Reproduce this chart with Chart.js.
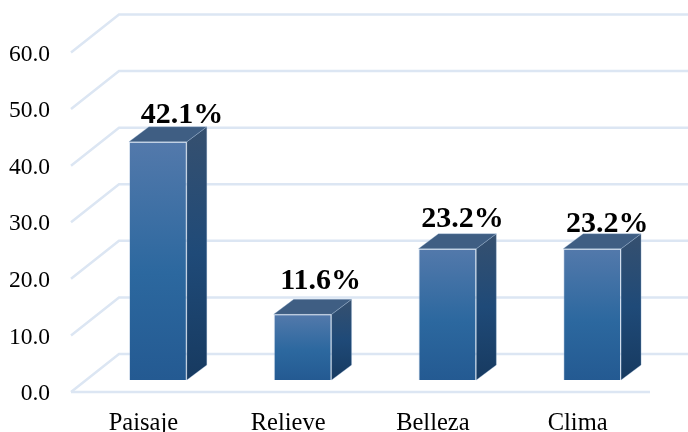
<!DOCTYPE html>
<html lang="es">
<head>
<meta charset="utf-8">
<title>Paisaje, relieve, belleza y clima</title>
<script src="https://cdn.jsdelivr.net/npm/chart.js@4/dist/chart.umd.min.js"></script>
<style>
    html, body { margin: 0; padding: 0; background: #fff; }
    canvas { display: block; }
</style>
</head>
<body>
<canvas id="barChart" width="688" height="432"></canvas>
<script>
// --- 1. DATOS ---
const categorias = ['Paisaje', 'Relieve', 'Belleza', 'Clima'];
const porcentajes = [42.1, 11.6, 23.2, 23.2];
const escalaMin = 0;
const escalaMax = 60;
const escalaPaso = 10;

// --- 2. APARIENCIA ---
const fuente = '"Liberation Serif", "Times New Roman", serif';
const colorRejilla = '#dce6f3';
const fondoX = 48, fondoY = -38;     // profundidad de las paredes
const caraX = 20, caraY = -15;       // profundidad de las barras
const desplazaBarra = 14.5;          // las barras van hacia el fondo del piso
const ajusteEtiquetas = [[24, -4], [18, -10], [15, -7], [15, -2]];

function degradado(ctx, y0, y1, paradas) {
    const g = ctx.createLinearGradient(0, y0, 0, y1);
    paradas.forEach(([p, c]) => g.addColorStop(p, c));
    return g;
}

// Paredes y piso detrás de las barras
const rejilla3D = {
    id: 'rejilla3D',
    beforeDatasetsDraw(chart) {
        const { ctx, chartArea, scales } = chart;
        ctx.save();
        ctx.strokeStyle = colorRejilla;
        ctx.lineWidth = 2.5;
        for (let v = escalaMin; v <= escalaMax; v += escalaPaso) {
            const y = scales.y.getPixelForValue(v);
            ctx.beginPath();
            ctx.moveTo(chartArea.left, y);
            ctx.lineTo(chartArea.left + fondoX, y + fondoY);
            ctx.lineTo(chart.width, y + fondoY);
            ctx.stroke();
        }
        const piso = scales.y.getPixelForValue(escalaMin);
        ctx.beginPath();
        ctx.moveTo(chartArea.left, piso);
        ctx.lineTo(chartArea.right, piso);
        ctx.stroke();
        ctx.restore();

        // El cuerpo de las barras se dibuja corrido sobre el piso
        ctx.save();
        ctx.translate(desplazaBarra, 0);
    },
    afterDatasetsDraw(chart) {
        chart.ctx.restore();
    }
};

// Caras superior y lateral, y el porcentaje sobre cada barra
const barras3D = {
    id: 'barras3D',
    afterDatasetsDraw(chart) {
        const { ctx } = chart;
        chart.getDatasetMeta(0).data.forEach((bar, i) => {
            const izq = bar.x - bar.width / 2 + desplazaBarra;
            const der = bar.x + bar.width / 2 + desplazaBarra;
            const arriba = bar.y;
            const abajo = bar.base;

            ctx.save();
            ctx.strokeStyle = 'rgba(170, 195, 225, 0.3)';
            ctx.lineWidth = 1;

            ctx.fillStyle = degradado(ctx, arriba + caraY, abajo, [[0, '#36506f'], [0.5, '#1f4a78'], [1, '#173a60']]);
            ctx.beginPath();
            ctx.moveTo(der, arriba);
            ctx.lineTo(der + caraX, arriba + caraY);
            ctx.lineTo(der + caraX, abajo + caraY);
            ctx.lineTo(der, abajo);
            ctx.closePath();
            ctx.fill();
            ctx.stroke();

            ctx.fillStyle = '#3f5e83';
            ctx.beginPath();
            ctx.moveTo(izq, arriba);
            ctx.lineTo(izq + caraX, arriba + caraY);
            ctx.lineTo(der + caraX, arriba + caraY);
            ctx.lineTo(der, arriba);
            ctx.closePath();
            ctx.fill();
            ctx.stroke();
            ctx.restore();

            ctx.save();
            ctx.font = 'bold 30px ' + fuente;
            ctx.fillStyle = '#000';
            ctx.textAlign = 'center';
            ctx.textBaseline = 'alphabetic';
            const [dx, dy] = ajusteEtiquetas[i];
            ctx.fillText(porcentajes[i].toFixed(1) + '%', bar.x + desplazaBarra + dx, arriba + caraY + dy);
            ctx.restore();
        });
    }
};

// --- 3. GRÁFICA ---
// yBarra tiene la misma escala que y, con el cero 12 px más arriba
const alturaUtil = 339.5;
const pxPorUnidad = alturaUtil / (escalaMax - escalaMin);
const elevaBarra = 12 / pxPorUnidad;

new Chart(document.getElementById('barChart').getContext('2d'), {
    type: 'bar',
    plugins: [rejilla3D, barras3D],
    data: {
        labels: categorias,
        datasets: [{
            label: '%',
            data: porcentajes,
            yAxisID: 'yBarra',
            barPercentage: 0.4,
            categoryPercentage: 1,
            borderWidth: 1,
            borderColor: 'rgba(170, 195, 225, 0.35)',
            backgroundColor(context) {
                const { chart, parsed } = context;
                if (!chart.chartArea || !parsed) return '#2c689f';
                const escala = chart.scales.yBarra;
                return degradado(chart.ctx, escala.getPixelForValue(parsed.y), escala.getPixelForValue(0),
                    [[0, '#5379ab'], [0.55, '#2c689f'], [1, '#245a92']]);
            }
        }]
    },
    options: {
        responsive: false,
        animation: false,
        layout: { padding: { top: 52.5, right: 38, left: 0, bottom: 0 } },
        plugins: {
            legend: { display: false },
            tooltip: { enabled: false }
        },
        scales: {
            x: {
                grid: { display: false },
                border: { display: false },
                ticks: {
                    color: '#000',
                    padding: 9,
                    font: { family: fuente, size: 24.5 },
                    maxRotation: 0
                },
                afterFit(scale) { scale.height = 40; }
            },
            y: {
                min: escalaMin,
                max: escalaMax,
                grid: { display: false },
                border: { display: false },
                ticks: {
                    stepSize: escalaPaso,
                    color: '#000',
                    padding: 13,
                    labelOffset: 2,
                    font: { family: fuente, size: 23.5 },
                    callback: v => v.toFixed(1)
                },
                afterFit(scale) { scale.width = 71; }
            },
            yBarra: {
                display: false,
                min: escalaMin - elevaBarra,
                max: escalaMax - elevaBarra
            }
        }
    }
});
</script>
</body>
</html>
